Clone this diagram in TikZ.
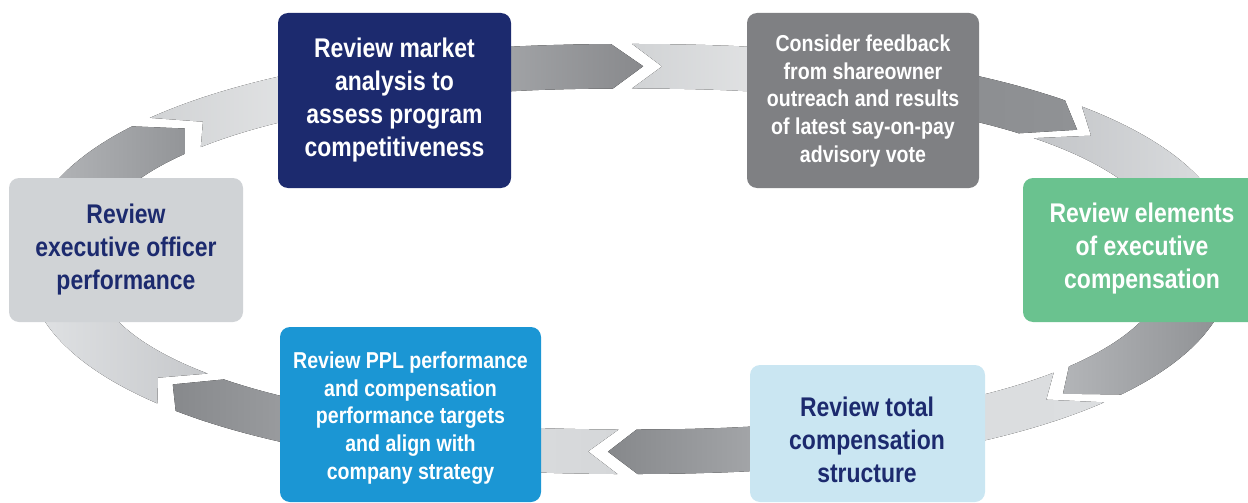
\documentclass[tikz,border=0pt]{standalone}
\usepackage{fontspec}
\setmainfont{Liberation Sans}[FakeStretch=0.85]
\definecolor{navy}{HTML}{1C2A6E}
\definecolor{slate}{HTML}{7F8083}
\definecolor{mint}{HTML}{6AC28F}
\definecolor{sky}{HTML}{CAE6F2}
\definecolor{azure}{HTML}{1B96D4}
\definecolor{mist}{HTML}{D0D3D6}
% band greys
\definecolor{gA}{HTML}{A7A9AC}\definecolor{gB}{HTML}{88898C}
\definecolor{gC}{HTML}{D1D3D5}\definecolor{gD}{HTML}{E4E5E6}
\definecolor{gE}{HTML}{8B8D90}\definecolor{gF}{HTML}{909295}
\definecolor{gG}{HTML}{C3C5C8}\definecolor{gH}{HTML}{DADCDE}
\definecolor{gI}{HTML}{B3B5B8}\definecolor{gJ}{HTML}{8F9194}
\definecolor{gK}{HTML}{DCDEE0}\definecolor{gL}{HTML}{86888B}
\definecolor{gM}{HTML}{D9DBDD}\definecolor{gN}{HTML}{D5D7D9}
\definecolor{gO}{HTML}{87898C}\definecolor{gP}{HTML}{A0A2A5}
\definecolor{gQ}{HTML}{DFE1E3}\definecolor{gR}{HTML}{C6C8CB}
\definecolor{gS}{HTML}{B5B7BA}\definecolor{gT}{HTML}{939598}
\definecolor{gU}{HTML}{E5E6E7}

% ring band: superellipse centred at (629.5,259), outer/inner/mid radii
\newcommand\darkpiece[5]{%
  \fill[left color=#4, right color=#5]
    plot[domain=#1:#2, variable=\t, samples=40] ({629.5+603*cosp(\t)},{259+215*sinp(\t)})
    -- ({629.5+571*cosp(#3)},{259+192.75*sinp(#3)})
    -- plot[domain=#2:#1, variable=\t, samples=40] ({629.5+539*cosp(\t)},{259+170.5*sinp(\t)})
    -- cycle;}
\newcommand\lightpiece[5]{%
  \fill[left color=#4, right color=#5]
    ({629.5+571*cosp(#2)},{259+192.75*sinp(#2)})
    -- plot[domain=#1:#3, variable=\t, samples=40] ({629.5+603*cosp(\t)},{259+215*sinp(\t)})
    -- plot[domain=#3:#1, variable=\t, samples=40] ({629.5+539*cosp(\t)},{259+170.5*sinp(\t)})
    -- cycle;}

\begin{document}
\begin{tikzpicture}[x=1pt,y=-1pt,
  declare function={
    cosp(\t)=(cos(\t)<0?-1:1)*pow(abs(cos(\t))+0.000001,0.909);
    sinp(\t)=(sin(\t)<0?-1:1)*pow(abs(sin(\t))+0.000001,0.909);
  },
  box/.style={rectangle, rounded corners=10pt, inner sep=0pt},
  lbl/.style={font=\bfseries\fontsize{27}{33}\selectfont, align=center, inner sep=0pt},
  lblsmall/.style={font=\bfseries\fontsize{23}{27.8}\selectfont, align=center, inner sep=0pt}]
\useasboundingbox (0,0) rectangle (1248,503);

% band segments: arrow piece followed by notched tail piece
\darkpiece{257}{268.76}{270.93}{gA}{gB}
\lightpiece{270.15}{272.45}{283}{gC}{gD}
\darkpiece{302}{314.35}{319.9}{gE}{gF}
\lightpiece{316.8}{322.3}{345}{gG}{gH}
\darkpiece{12}{37}{42.4}{gI}{gJ}
\lightpiece{39.8}{45}{62}{gH}{gK}
\darkpiece{78}{89.51}{91.56}{gL}{gA}
\lightpiece{90.78}{93.2}{99}{gM}{gN}
\darkpiece{122}{137}{141.45}{gO}{gP}
\lightpiece{139.8}{144.1}{168}{gQ}{gR}
\darkpiece{192}{216}{220.6}{gS}{gT}
\lightpiece{219}{223.5}{238}{gC}{gU}

% stages
\node[box, fill=navy,  minimum width=233pt, minimum height=175pt] (b1) at (394.5,100.5) {};
\node[box, fill=slate, minimum width=232pt, minimum height=175pt] (b2) at (863,100.5) {};
\node[box, fill=mint,  minimum width=235pt, minimum height=144pt] (b3) at (1140.5,250) {};
\node[box, fill=sky,   minimum width=235pt, minimum height=137pt] (b4) at (867.5,433.5) {};
\node[box, fill=azure, minimum width=261pt, minimum height=175pt] (b5) at (410.5,414.5) {};
\node[box, fill=mist,  minimum width=234pt, minimum height=144pt] (b6) at (126,250) {};

\node[lbl, text=white] (t1) at (394.5,100) {Review market\\analysis to\\assess program\\competitiveness};
\node[lblsmall, text=white] (t2) at (863,101) {Consider feedback\\from shareowner\\outreach and results\\of latest say-on-pay\\advisory vote};
\node[lbl, text=white] (t3) at (1142,249) {Review elements\\of executive\\compensation};
\node[lbl, text=navy] (t4) at (867,440) {Review total\\compensation\\structure};
\node[lblsmall, text=white] (t5) at (410.5,418) {Review PPL performance\\and compensation\\performance targets\\and align with\\company strategy};
\node[lbl, text=navy] (t6) at (126,250) {Review\\executive officer\\performance};
\end{tikzpicture}
\end{document}
